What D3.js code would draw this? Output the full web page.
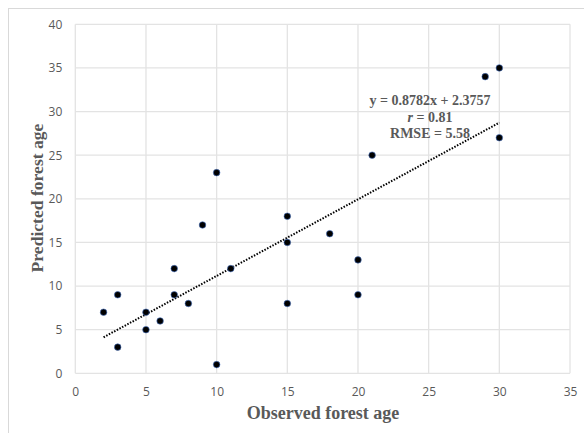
<!DOCTYPE html>
<html><head><meta charset="utf-8">
<script src="https://cdn.jsdelivr.net/npm/d3@7"></script>
<style>body{margin:0;background:#fff}</style>
</head><body>
<svg id="chart" width="584" height="433"></svg>
<script>
const observed = [2,3,3,5,5,6,7,7,8,9,10,10,11,15,15,15,18,20,20,21,29,30,30];
const predicted = [7,9,3,7,5,6,12,9,8,17,23,1,12,18,15,8,16,13,9,25,34,35,27];
const xTicks = [0,5,10,15,20,25,30,35];
const yTicks = [0,5,10,15,20,25,30,35,40];
const slope = 0.8782, intercept = 2.3757;
const eqLines = ["y = 0.8782x + 2.3757", "r = 0.81", "RMSE = 5.58"];

const svg = d3.select("#chart");
const x = d3.scaleLinear().domain([0,35]).range([75.3,570]);
const y = d3.scaleLinear().domain([0,40]).range([373.3,24.3]);

svg.append("rect").attr("x",8.5).attr("y",8.5).attr("width",600).attr("height",450)
  .attr("fill","none").attr("stroke","#d9d9d9");

// gridlines
svg.append("g").selectAll("line").data(yTicks).join("line")
  .attr("x1",x(0)).attr("x2",x(35)).attr("y1",d=>y(d)).attr("y2",d=>y(d))
  .attr("stroke","#e3e3e3").attr("stroke-width",1.3);
svg.append("g").selectAll("line").data(xTicks).join("line")
  .attr("y1",y(0)).attr("y2",y(40)).attr("x1",d=>x(d)).attr("x2",d=>x(d))
  .attr("stroke","#e3e3e3").attr("stroke-width",1.3);

// axes labels
const xAxis = d3.axisBottom(x).tickValues(xTicks).tickSize(0).tickPadding(14);
const gx = svg.append("g").attr("transform",`translate(0,${y(0)})`).call(xAxis);
gx.select(".domain").remove();
gx.selectAll("text").attr("fill","#595959").style("font-family","'Open Sans', sans-serif").style("font-size","12px");
const yAxis = d3.axisLeft(y).tickValues(yTicks).tickSize(0).tickPadding(13);
const gy = svg.append("g").attr("transform",`translate(${x(0)},0)`).call(yAxis);
gy.select(".domain").remove();
gy.selectAll("text").attr("fill","#595959").style("font-family","'Open Sans', sans-serif").style("font-size","12px");

// axis titles
svg.append("text").attr("x",323).attr("y",419).attr("text-anchor","middle")
  .attr("fill","#595959").style("font-family","'Liberation Serif', 'Times New Roman', serif")
  .style("font-weight","bold").style("font-size","18px").text("Observed forest age");
svg.append("text").attr("transform",`translate(43,198) rotate(-90)`).attr("text-anchor","middle")
  .attr("fill","#595959").style("font-family","'Liberation Serif', 'Times New Roman', serif")
  .style("font-weight","bold").style("font-size","17.6px").text("Predicted forest age");

// trendline
const xMin = d3.min(observed), xMax = d3.max(observed);
svg.append("line").attr("x1",x(xMin)).attr("y1",y(slope*xMin+intercept))
  .attr("x2",x(xMax)).attr("y2",y(slope*xMax+intercept))
  .attr("stroke","#000").attr("stroke-width",2).attr("stroke-dasharray","1.5,1.5");

// points
svg.append("g").selectAll("circle").data(observed.map((d,i)=>[d,predicted[i]])).join("circle")
  .attr("cx",d=>x(d[0])).attr("cy",d=>y(d[1])).attr("r",3.3)
  .attr("fill","#000").attr("stroke","#4472c4").attr("stroke-width",0.6);

// equation text
const eq = svg.append("text").attr("text-anchor","middle").attr("fill","#595959")
  .style("font-family","'Liberation Serif', 'Times New Roman', serif").style("font-weight","bold").style("font-size","14px");
eq.append("tspan").attr("x",430).attr("y",105).text(eqLines[0]);
const t2 = eq.append("tspan").attr("x",430).attr("y",122);
t2.append("tspan").style("font-style","italic").text("r");
t2.append("tspan").text(eqLines[1].slice(1));
eq.append("tspan").attr("x",430).attr("y",138).text(eqLines[2]);
</script>
</body></html>
